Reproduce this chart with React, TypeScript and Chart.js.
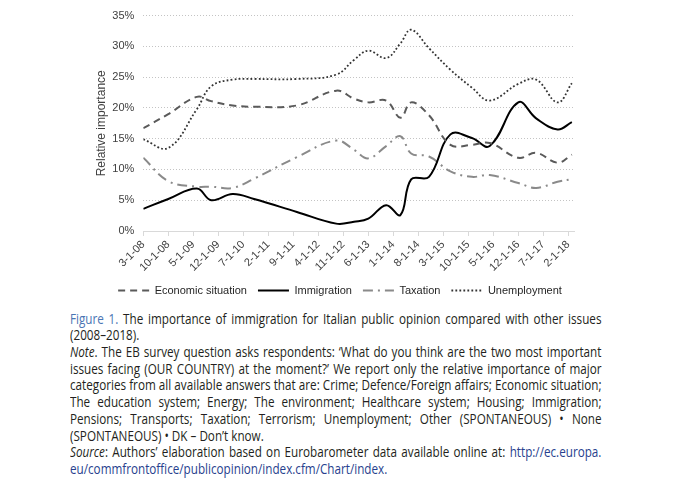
import React, { useEffect, useRef, useMemo } from "react";
import { Chart, registerables } from "chart.js";

Chart.register(...registerables);

// ---- data ----
const tickLabels = [
  "3-1-08", "10-1-08", "5-1-09", "12-1-09", "7-1-10", "2-1-11", "9-1-11", "4-1-12", "11-1-12",
  "6-1-13", "1-1-14", "8-1-14", "3-1-15", "10-1-15", "5-1-16", "12-1-16", "7-1-17", "2-1-18",
];
const tickMonths = [0, 7, 14, 21, 28, 35, 42, 49, 56, 63, 70, 77, 84, 91, 98, 105, 112, 119];

// survey dates, months since March 2008
const surveyMonths = [0, 7, 15, 19, 25, 31, 43, 54, 59, 63, 68, 72, 75, 80, 86, 92, 97, 105, 110, 116, 120];

const economicSituation = [16.7, 19.0, 21.8, 21.1, 20.4, 20.2, 20.4, 22.8, 21.5, 20.9, 21.2, 18.4, 20.9, 18.8, 14.0, 14.0, 14.3, 11.9, 12.7, 11.1, 12.4];
const immigration = [3.6, 5.2, 6.9, 5.0, 6.0, 5.2, 3.1, 1.2, 1.5, 2.0, 4.2, 2.6, 8.4, 8.8, 15.7, 15.1, 13.8, 20.9, 18.3, 16.5, 17.7];
const taxation = [11.9, 8.1, 7.2, 7.2, 7.0, 8.5, 12.0, 14.7, 13.2, 11.8, 13.8, 15.4, 12.6, 12.1, 9.7, 8.8, 9.1, 7.8, 7.0, 8.0, 8.4];
const unemployment = [14.9, 13.5, 19.8, 23.5, 24.6, 24.7, 24.7, 25.4, 27.8, 29.3, 28.1, 30.5, 32.7, 29.7, 26.2, 23.3, 21.2, 23.9, 24.6, 20.9, 24.0];

const yTicks = [0, 5, 10, 15, 20, 25, 30, 35];

const captionLines: { j: boolean; text: string }[] = [
  { j: true, text: "Figure 1. The importance of immigration for Italian public opinion compared with other issues" },
  { j: false, text: "(2008–2018)." },
  { j: true, text: "Note. The EB survey question asks respondents: ‘What do you think are the two most important" },
  { j: true, text: "issues facing (OUR COUNTRY) at the moment?’ We report only the relative importance of major" },
  { j: true, text: "categories from all available answers that are: Crime; Defence/Foreign affairs; Economic situation;" },
  { j: true, text: "The education system; Energy; The environment; Healthcare system; Housing; Immigration;" },
  { j: true, text: "Pensions; Transports; Taxation; Terrorism; Unemployment; Other (SPONTANEOUS) • None" },
  { j: false, text: "(SPONTANEOUS) • DK – Don’t know." },
  { j: true, text: "Source: Authors’ elaboration based on Eurobarometer data available online at: http://ec.europa." },
  { j: false, text: "eu/commfrontoffice/publicopinion/index.cfm/Chart/index." },
];

const FONT = "'Liberation Sans', Arial, sans-serif";
const CAP_FONT = "'Open Sans', 'Noto Sans', sans-serif";
const CAP_SIZE = 14;
const CAP_W = 531.5;
const CAP_LH = 16.7;
const CANVAS_H = 306;

function toPoints(vals: number[]) {
  return vals.map((v, i) => ({ x: surveyMonths[i], y: v }));
}

function renderWord(w: string, key: number) {
  if (w === "Figure" || w === "1.") return <span key={key} style={{ color: "#4a75b4" }}>{w}</span>;
  if (w === "Note.") return <span key={key}><i>Note</i>.</span>;
  if (w === "Source:") return <span key={key}><i>Source</i>:</span>;
  if (w.startsWith("http") || w.startsWith("eu/")) return <span key={key} style={{ color: "#283f8e" }}>{w}</span>;
  return <span key={key}>{w}</span>;
}

function Caption() {
  const scale = useMemo(() => {
    const c = document.createElement("canvas").getContext("2d");
    if (!c) return 0.88;
    c.font = `${CAP_SIZE}px ${CAP_FONT}`;
    let maxW = 0;
    captionLines.forEach((l) => {
      if (l.j) maxW = Math.max(maxW, c.measureText(l.text).width);
    });
    return maxW > 0 ? Math.min(1, (CAP_W - 1) / maxW) : 0.88;
  }, []);
  const innerW = CAP_W / scale;
  return (
    <div
      style={{
        position: "absolute",
        left: 69.5,
        top: 310.7,
        width: innerW,
        transform: `scaleX(${scale})`,
        transformOrigin: "0 0",
        fontFamily: CAP_FONT,
        fontSize: CAP_SIZE,
        lineHeight: `${CAP_LH}px`,
        color: "#231f20",
      }}
    >
      {captionLines.map((ln, i) => {
        const words = ln.text.split(" ");
        if (ln.j) {
          return (
            <div key={i} style={{ display: "flex", justifyContent: "space-between", whiteSpace: "nowrap", height: CAP_LH }}>
              {words.map((w, k) => renderWord(w, k))}
            </div>
          );
        }
        return (
          <div key={i} style={{ whiteSpace: "nowrap", height: CAP_LH }}>
            {words.map((w, k) => (
              <React.Fragment key={k}>
                {k > 0 ? " " : ""}
                {renderWord(w, k)}
              </React.Fragment>
            ))}
          </div>
        );
      })}
    </div>
  );
}

export default function App() {
  const ref = useRef<HTMLCanvasElement | null>(null);

  useEffect(() => {
    if (!ref.current) return;
    const chart = new Chart(ref.current, {
      type: "line",
      data: {
        datasets: [
          {
            label: "Economic situation",
            data: toPoints(economicSituation),
            borderColor: "#5a5a5a",
            borderWidth: 2,
            borderDash: [7, 5],
            pointRadius: 0,
            tension: 0.4,
            fill: false,
          },
          {
            label: "Immigration",
            data: toPoints(immigration),
            borderColor: "#000000",
            borderWidth: 2,
            pointRadius: 0,
            tension: 0.4,
            fill: false,
          },
          {
            label: "Taxation",
            data: toPoints(taxation),
            borderColor: "#8a8a8a",
            borderWidth: 2,
            borderDash: [10, 5, 2, 5],
            pointRadius: 0,
            tension: 0.4,
            fill: false,
          },
          {
            label: "Unemployment",
            data: toPoints(unemployment),
            borderColor: "#333333",
            borderWidth: 1.8,
            borderDash: [1.8, 2.2],
            pointRadius: 0,
            tension: 0.4,
            fill: false,
          },
        ],
      },
      options: {
        responsive: false,
        animation: false,
        events: [],
        layout: { padding: { left: 90, right: 90, top: 14, bottom: 0 } },
        plugins: {
          tooltip: { enabled: false },
          legend: {
            position: "bottom",
            labels: {
              usePointStyle: true,
              pointStyle: "line",
              pointStyleWidth: 31,
              boxWidth: 31,
              font: { family: FONT, size: 11 },
              color: "#262626",
              padding: 11,
              generateLabels: (ch: any) => {
                const items = (Chart.defaults.plugins.legend.labels as any).generateLabels(ch);
                return items.map((it: any, i: number) => {
                  const ds: any = ch.data.datasets[i];
                  return {
                    ...it,
                    pointStyle: "line",
                    strokeStyle: ds.borderColor,
                    lineWidth: ds.borderWidth,
                    lineDash: ds.borderDash || [],
                  };
                });
              },
            },
          },
        },
        scales: {
          x: {
            type: "linear",
            min: 0,
            max: 120.6,
            afterBuildTicks: (s: any) => {
              s.ticks = tickMonths.map((v) => ({ value: v }));
            },
            afterFit: (s: any) => {
              s.height = 43;
            },
            ticks: {
              autoSkip: false,
              maxRotation: 45,
              minRotation: 45,
              padding: 2,
              font: { family: FONT, size: 11 },
              color: "#404040",
              callback: (v: any) => {
                const idx = tickMonths.indexOf(Number(v));
                return idx >= 0 ? tickLabels[idx] : "";
              },
            },
            grid: { drawOnChartArea: false, drawTicks: true, tickLength: 5, color: "#d9d9d9" },
            border: { display: true, color: "#d9d9d9", width: 1 },
          },
          y: {
            min: 0,
            max: 35,
            afterBuildTicks: (s: any) => {
              s.ticks = yTicks.map((v) => ({ value: v }));
            },
            afterFit: (s: any) => {
              s.width = 53.3;
            },
            ticks: {
              padding: 9,
              font: { family: FONT, size: 11 },
              color: "#404040",
              callback: (v: any) => v + "%",
            },
            title: {
              display: true,
              text: "Relative importance",
              font: { family: FONT, size: 12 },
              color: "#404040",
              padding: { top: 4, bottom: 0 },
            },
            grid: { drawTicks: false, color: "#c4c4c4", lineWidth: 1 },
            border: { display: false, dash: [1, 2] },
          },
          yRight: {
            position: "right",
            display: true,
            min: 0,
            max: 1,
            grid: { display: false, drawOnChartArea: false, drawTicks: false },
            ticks: { display: false },
            border: { display: false },
            afterFit: (s: any) => {
              s.width = 16;
            },
          },
        },
      },
    });
    return () => chart.destroy();
  }, []);

  return (
    <div
      style={{
        position: "fixed",
        left: 0,
        top: 0,
        width: 680,
        height: 493,
        background: "#ffffff",
        overflow: "hidden",
      }}
    >
      <canvas
        ref={ref}
        width={680}
        height={CANVAS_H}
        style={{ position: "absolute", left: 0, top: 0, width: 680, height: CANVAS_H }}
      />
      <Caption />
    </div>
  );
}
